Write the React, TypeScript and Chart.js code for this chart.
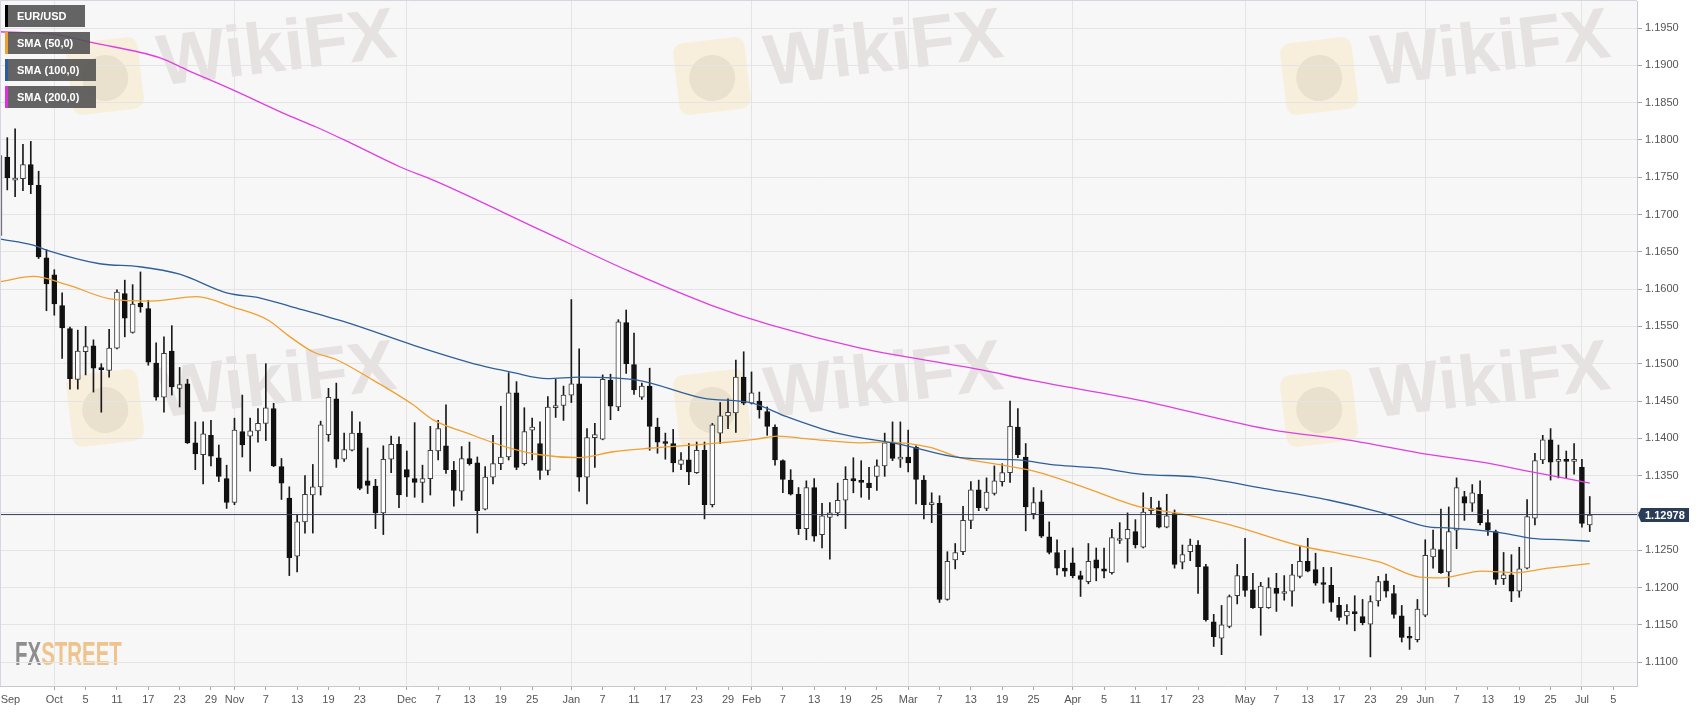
import { useEffect, useRef } from "react"
import { Chart, registerables } from "chart.js"

Chart.register(...registerables)

// x = trading-day index, 0 = Mon 1 Oct 2018; first candle Thu 20 Sep 2018, last Tue 2 Jul 2019
const FIRST_INDEX = -7

const opens = [
  1.1672, 1.1777, 1.1746, 1.1748, 1.1767, 1.1739, 1.1642, // Sep
  1.1619, 1.1578, 1.1547, 1.1479, 1.1516, 1.1524, 1.1494, 1.1491, 1.1521, 1.1594, 1.1542, 1.1581, 1.1574, 1.1501, 1.1455, 1.1517, 1.1467, 1.1473, 1.1394, 1.1378, 1.1404, 1.1374, 1.1346, // Oct
  1.1314, 1.1409, 1.1403, 1.1410, 1.1420, 1.1440, 1.1362, 1.1320, 1.1242, 1.1288, 1.1324, 1.1335, 1.1405, 1.1453, 1.1372, 1.1384, 1.1407, 1.1343, 1.1336, 1.1300, 1.1372, 1.1392, // Nov
  1.1358, 1.1346, 1.1341, 1.1346, 1.1383, 1.1390, 1.1357, 1.1329, 1.1373, 1.1367, 1.1305, 1.1348, 1.1366, 1.1375, 1.1461, 1.1366, 1.1411, 1.1393, 1.1357, 1.1441, 1.1444, // Dec
  1.1458, 1.1473, 1.1348, 1.1401, 1.1399, 1.1478, 1.1442, 1.1555, 1.1499, 1.1455, 1.1470, 1.1415, 1.1395, 1.1393, 1.1365, 1.1371, 1.1354, 1.1384, 1.1311, 1.1407, 1.1430, 1.1434, 1.1482, // Jan
  1.1447, 1.1450, 1.1436, 1.1415, 1.1370, 1.1344, 1.1325, 1.1279, 1.1334, 1.1271, 1.1294, 1.1300, 1.1317, 1.1346, 1.1343, 1.1340, 1.1349, 1.1363, 1.1394, 1.1372, // Feb
  1.1375, 1.1388, 1.1344, 1.1311, 1.1313, 1.1184, 1.1237, 1.1248, 1.1290, 1.1331, 1.1306, 1.1326, 1.1342, 1.1354, 1.1415, 1.1375, 1.1299, 1.1315, 1.1268, 1.1247, 1.1226, // Mar
  1.1233, 1.1216, 1.1208, 1.1237, 1.1225, 1.1220, 1.1263, 1.1265, 1.1275, 1.1254, 1.1303, 1.1307, 1.1281, 1.1299, 1.1234, 1.1248, 1.1257, 1.1228, 1.1154, 1.1132, 1.1148, 1.1189, // Apr
  1.1215, 1.1197, 1.1173, 1.1173, 1.1199, 1.1192, 1.1195, 1.1215, 1.1235, 1.1224, 1.1205, 1.1203, 1.1176, 1.1162, 1.1167, 1.1161, 1.1151, 1.1182, 1.1209, 1.1192, 1.1162, 1.1133, 1.1130, // May
  1.1163, 1.1241, 1.1251, 1.1221, 1.1277, 1.1322, 1.1313, 1.1325, 1.1287, 1.1275, 1.1212, 1.1217, 1.1195, 1.1226, 1.1293, 1.1371, 1.1398, 1.1369, 1.1370, 1.1369, // Jun
  1.1361, 1.1284, // Jul
]

const highs = [
  1.1792, 1.1803, 1.1815, 1.1794, 1.1798, 1.1758, 1.1653,
  1.1626, 1.1595, 1.1549, 1.1545, 1.1550, 1.1532, 1.1500, 1.1546, 1.1599, 1.1612, 1.1606, 1.1623, 1.1585, 1.1528, 1.1536, 1.1551, 1.1495, 1.1479, 1.1422, 1.1422, 1.1424, 1.1391, 1.1364,
  1.1427, 1.1458, 1.1427, 1.1440, 1.1500, 1.1447, 1.1373, 1.1335, 1.1297, 1.1350, 1.1365, 1.1423, 1.1467, 1.1474, 1.1407, 1.1436, 1.1422, 1.1387, 1.1345, 1.1390, 1.1403, 1.1402,
  1.1383, 1.1421, 1.1364, 1.1416, 1.1424, 1.1445, 1.1369, 1.1389, 1.1395, 1.1375, 1.1362, 1.1404, 1.1443, 1.1488, 1.1476, 1.1441, 1.1427, 1.1422, 1.1456, 1.1479, 1.1470,
  1.1586, 1.1520, 1.1413, 1.1420, 1.1485, 1.1486, 1.1559, 1.1572, 1.1541, 1.1474, 1.1494, 1.1427, 1.1407, 1.1412, 1.1381, 1.1393, 1.1395, 1.1395, 1.1420, 1.1448, 1.1453, 1.1505, 1.1516,
  1.1489, 1.1462, 1.1442, 1.1418, 1.1371, 1.1358, 1.1334, 1.1343, 1.1346, 1.1313, 1.1314, 1.1340, 1.1362, 1.1374, 1.1370, 1.1361, 1.1371, 1.1407, 1.1422, 1.1422,
  1.1411, 1.1390, 1.1350, 1.1327, 1.1323, 1.1248, 1.1259, 1.1309, 1.1342, 1.1344, 1.1347, 1.1363, 1.1366, 1.1450, 1.1440, 1.1393, 1.1334, 1.1330, 1.1288, 1.1264, 1.1250,
  1.1253, 1.1222, 1.1259, 1.1253, 1.1253, 1.1278, 1.1287, 1.1300, 1.1291, 1.1327, 1.1321, 1.1316, 1.1325, 1.1304, 1.1257, 1.1265, 1.1263, 1.1231, 1.1164, 1.1176, 1.1190, 1.1231,
  1.1266, 1.1219, 1.1207, 1.1213, 1.1219, 1.1216, 1.1231, 1.1255, 1.1266, 1.1246, 1.1227, 1.1227, 1.1187, 1.1177, 1.1189, 1.1184, 1.1189, 1.1215, 1.1218, 1.1203, 1.1176, 1.1147, 1.1184,
  1.1264, 1.1277, 1.1305, 1.1308, 1.1347, 1.1329, 1.1338, 1.1343, 1.1304, 1.1277, 1.1247, 1.1244, 1.1254, 1.1318, 1.1380, 1.1404, 1.1413, 1.1391, 1.1383, 1.1393,
  1.1372, 1.1322,
]

const lows = [
  1.1665, 1.1733, 1.1724, 1.1732, 1.1728, 1.1641, 1.1571,
  1.1565, 1.1507, 1.1466, 1.1466, 1.1485, 1.1462, 1.1435, 1.1482, 1.1520, 1.1536, 1.1541, 1.1569, 1.1498, 1.1451, 1.1435, 1.1458, 1.1442, 1.1393, 1.1358, 1.1339, 1.1363, 1.1342, 1.1306,
  1.1311, 1.1375, 1.1356, 1.1395, 1.1397, 1.1362, 1.1318, 1.1216, 1.1221, 1.1273, 1.1273, 1.1324, 1.1396, 1.1361, 1.1369, 1.1383, 1.1331, 1.1326, 1.1279, 1.1271, 1.1354, 1.1307,
  1.1322, 1.1321, 1.1314, 1.1324, 1.1371, 1.1353, 1.1309, 1.1317, 1.1364, 1.1273, 1.1304, 1.1339, 1.1358, 1.1371, 1.1358, 1.1364, 1.1371, 1.1345, 1.1351, 1.1428, 1.1424,
  1.1448, 1.1329, 1.1312, 1.1361, 1.1398, 1.1425, 1.1437, 1.1487, 1.1459, 1.1452, 1.1384, 1.1380, 1.1372, 1.1355, 1.1358, 1.1338, 1.1353, 1.1292, 1.1308, 1.1393, 1.1413, 1.1408, 1.1445,
  1.1446, 1.1427, 1.1404, 1.1364, 1.1327, 1.1324, 1.1271, 1.1264, 1.1262, 1.1253, 1.1238, 1.1296, 1.1279, 1.1327, 1.1321, 1.1318, 1.1330, 1.1349, 1.1370, 1.1361,
  1.1355, 1.1312, 1.1292, 1.1287, 1.1180, 1.1183, 1.1225, 1.1244, 1.1279, 1.1303, 1.1303, 1.1324, 1.1336, 1.1341, 1.1374, 1.1276, 1.1292, 1.1267, 1.1245, 1.1217, 1.1215,
  1.1213, 1.1188, 1.1205, 1.1209, 1.1213, 1.1218, 1.1259, 1.1234, 1.1253, 1.1253, 1.1298, 1.1280, 1.1280, 1.1226, 1.1225, 1.1236, 1.1192, 1.1155, 1.1121, 1.1110, 1.1146, 1.1178,
  1.1188, 1.1172, 1.1136, 1.1172, 1.1168, 1.1183, 1.1175, 1.1213, 1.1221, 1.1203, 1.1179, 1.1168, 1.1156, 1.1151, 1.1142, 1.1150, 1.1107, 1.1175, 1.1187, 1.1159, 1.1127, 1.1117, 1.1127,
  1.1161, 1.1226, 1.1219, 1.1201, 1.1252, 1.1290, 1.1302, 1.1284, 1.1270, 1.1204, 1.1204, 1.1181, 1.1187, 1.1225, 1.1284, 1.1366, 1.1344, 1.1347, 1.1346, 1.1352,
  1.1281, 1.1275,
]

const closes = [
  1.1779, 1.1749, 1.1748, 1.1767, 1.1740, 1.1643, 1.1607,
  1.1580, 1.1548, 1.1480, 1.1517, 1.1523, 1.1494, 1.1492, 1.1521, 1.1596, 1.1561, 1.1580, 1.1576, 1.1502, 1.1455, 1.1514, 1.1469, 1.1472, 1.1394, 1.1379, 1.1406, 1.1376, 1.1349, 1.1314,
  1.1411, 1.1391, 1.1410, 1.1420, 1.1441, 1.1363, 1.1340, 1.1240, 1.1288, 1.1325, 1.1335, 1.1418, 1.1455, 1.1372, 1.1385, 1.1407, 1.1333, 1.1337, 1.1300, 1.1372, 1.1392, 1.1324,
  1.1348, 1.1341, 1.1346, 1.1384, 1.1413, 1.1358, 1.1330, 1.1373, 1.1366, 1.1303, 1.1348, 1.1366, 1.1375, 1.1461, 1.1361, 1.1409, 1.1415, 1.1357, 1.1442, 1.1444, 1.1458,
  1.1473, 1.1348, 1.1401, 1.1405, 1.1479, 1.1443, 1.1556, 1.1500, 1.1465, 1.1470, 1.1416, 1.1395, 1.1393, 1.1367, 1.1371, 1.1355, 1.1384, 1.1311, 1.1418, 1.1430, 1.1435, 1.1482, 1.1447,
  1.1461, 1.1438, 1.1416, 1.1371, 1.1345, 1.1325, 1.1279, 1.1334, 1.1269, 1.1296, 1.1300, 1.1317, 1.1345, 1.1343, 1.1341, 1.1334, 1.1363, 1.1394, 1.1373, 1.1375,
  1.1367, 1.1345, 1.1311, 1.1314, 1.1184, 1.1235, 1.1247, 1.1290, 1.1331, 1.1307, 1.1328, 1.1343, 1.1354, 1.1416, 1.1378, 1.1308, 1.1314, 1.1269, 1.1247, 1.1226, 1.1222,
  1.1216, 1.1211, 1.1235, 1.1226, 1.1222, 1.1267, 1.1265, 1.1278, 1.1257, 1.1301, 1.1305, 1.1281, 1.1296, 1.1231, 1.1244, 1.1257, 1.1228, 1.1157, 1.1134, 1.1150, 1.1188, 1.1216,
  1.1196, 1.1173, 1.1202, 1.1200, 1.1192, 1.1194, 1.1217, 1.1235, 1.1222, 1.1206, 1.1204, 1.1180, 1.1160, 1.1168, 1.1165, 1.1153, 1.1181, 1.1208, 1.1195, 1.1164, 1.1133, 1.1132, 1.1171,
  1.1243, 1.1252, 1.1220, 1.1275, 1.1334, 1.1313, 1.1327, 1.1287, 1.1277, 1.1211, 1.1217, 1.1195, 1.1225, 1.1295, 1.1370, 1.1398, 1.1368, 1.1371, 1.1369, 1.1371,
  1.1286, 1.1297,
]

const sma50Index = [-6.9, -2.7, 1.6, 7.1, 12.2, 18.2, 22.8, 27.2, 30.1, 33.0, 36.1, 40.7, 45.8, 48.3, 52.7, 57.8, 62.0, 67.1, 71.3, 76.4, 85.0, 89.7, 92.3, 96.5, 102.9, 105.8, 111.8, 115.6, 121.1, 125.4, 131.3, 138.6, 143.7, 150.1, 158.6, 162.8, 169.2, 174.3, 177.1, 182.2, 186.5, 190.7, 196]
const sma50 = [1.1610, 1.1617, 1.1606, 1.1587, 1.1584, 1.1590, 1.1576, 1.1559, 1.1536, 1.1516, 1.1505, 1.1478, 1.1445, 1.1425, 1.1407, 1.1388, 1.1378, 1.1374, 1.1382, 1.1387, 1.1394, 1.1399, 1.1403, 1.1399, 1.1394, 1.1395, 1.1388, 1.1374, 1.1364, 1.1355, 1.1335, 1.1308, 1.1299, 1.1284, 1.1257, 1.1248, 1.1234, 1.1214, 1.1213, 1.1222, 1.1220, 1.1226, 1.1232]

const sma100Index = [-6.9, -2.7, -0.9, 5.8, 10.9, 16.0, 22.0, 26.3, 30.1, 37.4, 45.8, 54.3, 58.6, 62.9, 67.1, 74.4, 82.8, 89.2, 93.5, 99.9, 108.0, 115.6, 122.9, 128.0, 133.5, 138.6, 145.9, 154.3, 162.8, 169.2, 175.6, 177.9, 184.3, 188.6, 192.8, 196]
const sma100 = [1.1667, 1.1659, 1.1652, 1.1634, 1.1630, 1.1620, 1.1595, 1.1588, 1.1577, 1.1555, 1.1525, 1.1498, 1.1488, 1.1480, 1.1482, 1.1478, 1.1454, 1.1447, 1.1429, 1.1407, 1.1392, 1.1374, 1.1371, 1.1364, 1.1360, 1.1352, 1.1348, 1.1333, 1.1317, 1.1301, 1.1281, 1.1280, 1.1274, 1.1266, 1.1264, 1.1262]

const sma200Index = [-6.9, 0.3, 4.6, 13.5, 16.9, 22.8, 29.2, 33.5, 37.8, 44.1, 48.6, 62.5, 73.6, 83.7, 91.4, 102.9, 118.2, 124.6, 138.6, 155.6, 165.0, 175.6, 182.2, 188.6, 196]
const sma200 = [1.1945, 1.1941, 1.1931, 1.1910, 1.1894, 1.1867, 1.1836, 1.1817, 1.1796, 1.1764, 1.1745, 1.1677, 1.1623, 1.1579, 1.1552, 1.1521, 1.1492, 1.1478, 1.1451, 1.1411, 1.1398, 1.1378, 1.1368, 1.1355, 1.1340]

const lastPrice = 1.12978

const xTickIndex = [-5.6, 0, 4, 8, 12, 16, 20, 23, 27, 31, 35, 39, 45, 49, 53, 57, 61, 66, 70, 74, 78, 82, 86, 89, 93, 97, 101, 105, 109, 113, 117, 121, 125, 130, 134, 138, 142, 146, 152, 156, 160, 164, 168, 172, 175, 179, 183, 187, 191, 195, 199]
const xTickLabels = ["Sep", "Oct", "5", "11", "17", "23", "29", "Nov", "7", "13", "19", "23", "Dec", "7", "13", "19", "25", "Jan", "7", "11", "17", "23", "29", "Feb", "7", "13", "19", "25", "Mar", "7", "13", "19", "25", "Apr", "5", "11", "17", "23", "May", "7", "13", "17", "23", "29", "Jun", "7", "13", "19", "25", "Jul", "5"]
const yTicks = [1.11, 1.115, 1.12, 1.125, 1.13, 1.135, 1.14, 1.145, 1.15, 1.155, 1.16, 1.165, 1.17, 1.175, 1.18, 1.185, 1.19, 1.195]

const legendItems = [
  { text: "EUR/USD", color: "#000000", width: 80 },
  { text: "SMA (50,0)", color: "#f0a030", width: 85 },
  { text: "SMA (100,0)", color: "#2c5d9c", width: 91 },
  { text: "SMA (200,0)", color: "#e030e0", width: 91 },
]

const FONT = "'Liberation Sans', Arial, sans-serif"

const isMonth = (label: string) => /^[A-Z]/.test(label) && label !== "Sep"

function drawWatermark(ctx: CanvasRenderingContext2D, cx: number, cy: number) {
  ctx.save()
  ctx.translate(cx, cy)
  ctx.rotate(-0.12)
  ctx.fillStyle = "rgba(250, 212, 125, 0.22)"
  ctx.beginPath()
  ctx.roundRect(-36, -36, 72, 72, 10)
  ctx.fill()
  ctx.fillStyle = "rgba(140, 120, 120, 0.13)"
  ctx.beginPath()
  ctx.arc(0, 2, 23, 0, Math.PI * 2)
  ctx.fill()
  ctx.font = `bold 72px ${FONT}`
  ctx.fillStyle = "rgba(185, 165, 165, 0.26)"
  ctx.textBaseline = "alphabetic"
  ctx.fillText("WikiFX", 54, 16)
  ctx.restore()
}

const decorPlugin = {
  id: "decor",
  beforeDraw(chart: Chart) {
    const { ctx, chartArea: a } = chart
    ctx.save()
    ctx.fillStyle = "#ffffff"
    ctx.fillRect(0, 0, chart.width, chart.height)
    ctx.fillStyle = "#f7f7f7"
    ctx.fillRect(a.left, a.top, a.right - a.left, a.bottom - a.top)
    ctx.beginPath()
    ctx.rect(a.left, a.top, a.right - a.left, a.bottom - a.top)
    ctx.clip()
    for (const dy of [0, 332]) {
      for (const dx of [0, 607, 1214]) drawWatermark(ctx, 105 + dx, 76 + dy)
    }
    // FXSTREET logo
    ctx.translate(15, 665)
    ctx.scale(0.62, 1)
    ctx.font = `bold 33px ${FONT}`
    ctx.fillStyle = "#8e8e8e"
    ctx.fillText("FX", 0, 0)
    const w = ctx.measureText("FX").width
    ctx.fillStyle = "#efc38c"
    ctx.fillText("STREET", w, 0)
    ctx.restore()
  },
  afterDraw(chart: Chart) {
    const { ctx, chartArea: a } = chart
    const yScale = chart.scales.y
    ctx.save()
    // top / left frame
    ctx.strokeStyle = "#d6d6e2"
    ctx.lineWidth = 1
    ctx.beginPath()
    ctx.moveTo(a.left + 0.5, a.bottom)
    ctx.lineTo(a.left + 0.5, a.top - 0.5)
    ctx.lineTo(a.right, a.top - 0.5)
    ctx.stroke()

    // legend boxes
    ctx.font = `bold 11px ${FONT}`
    ctx.textBaseline = "middle"
    legendItems.forEach((item, i) => {
      const y = 5 + i * 27
      ctx.fillStyle = "rgba(80, 80, 80, 0.88)"
      ctx.fillRect(5, y, item.width, 22)
      ctx.fillStyle = item.color
      ctx.fillRect(5, y, 3, 22)
      ctx.fillStyle = "#ffffff"
      ctx.fillText(item.text, 17, y + 11.5)
    })

    // last price label
    const py = Math.round(yScale.getPixelForValue(lastPrice))
    const x0 = a.right + 1
    ctx.fillStyle = "#2a3d58"
    ctx.beginPath()
    ctx.moveTo(x0, py)
    ctx.lineTo(x0 + 3, py - 7)
    ctx.lineTo(x0 + 51, py - 7)
    ctx.lineTo(x0 + 51, py + 7)
    ctx.lineTo(x0 + 3, py + 7)
    ctx.closePath()
    ctx.fill()
    ctx.fillStyle = "#ffffff"
    ctx.font = `bold 11px ${FONT}`
    ctx.fillText(lastPrice.toFixed(5), x0 + 7, py + 0.5)
    ctx.restore()
  },
}

export default function App() {
  const canvasRef = useRef<HTMLCanvasElement>(null)
  const chartRef = useRef<Chart | null>(null)

  useEffect(() => {
    if (!canvasRef.current) return

    if (chartRef.current) chartRef.current.destroy()

    const wicks = lows.map((l, k) => ({ x: FIRST_INDEX + k, y: [l, highs[k]] }))
    const bodies = opens.map((o, k) => ({ x: FIRST_INDEX + k, y: [o, closes[k]] }))
    const up = (k: number) => closes[k] >= opens[k]
    const smaLine = (index: number[], values: number[], color: string, order: number) => ({
      type: "line" as const,
      data: values.map((v, k) => ({ x: index[k], y: v })),
      borderColor: color,
      borderWidth: 1.3,
      pointRadius: 0,
      cubicInterpolationMode: "monotone" as const,
      order,
    })

    chartRef.current = new Chart(canvasRef.current, {
      type: "bar",
      data: {
        datasets: [
          {
            data: wicks as any,
            backgroundColor: "#1a1a1a",
            borderWidth: 0,
            barThickness: 1,
            grouped: false,
            order: 6,
          },
          {
            data: bodies as any,
            backgroundColor: (c: any) => (up(c.dataIndex) ? "#ffffff" : "#111111"),
            borderColor: (c: any) => (up(c.dataIndex) ? "#3c3c3c" : "#111111"),
            borderWidth: 1,
            borderSkipped: false,
            barThickness: 5,
            minBarLength: 2,
            grouped: false,
            order: 5,
          },
          smaLine(sma50Index, sma50, "#f0a030", 3),
          smaLine(sma100Index, sma100, "#2f5f99", 2),
          smaLine(sma200Index, sma200, "#e03ee0", 1),
          {
            type: "line",
            data: [
              { x: -7, y: lastPrice },
              { x: 203, y: lastPrice },
            ],
            borderColor: "#2b3f5e",
            borderWidth: 1,
            pointRadius: 0,
            order: 0,
          },
        ] as any,
      },
      options: {
        animation: false,
        responsive: true,
        maintainAspectRatio: false,
        events: [],
        layout: { padding: { top: 1, left: 0, right: 0, bottom: 0 } },
        plugins: { legend: { display: false }, tooltip: { enabled: false } },
        scales: {
          x: {
            type: "linear",
            min: -6.93,
            max: 202.03,
            offset: false,
            afterBuildTicks: (s: any) => {
              s.ticks = xTickIndex.map((v) => ({ value: v }))
            },
            afterFit: (s: any) => {
              s.height = 26
              s.paddingLeft = 0
              s.paddingRight = 0
            },
            grid: {
              offset: false,
              color: (c: any) => (isMonth(xTickLabels[c.index] ?? "") ? "#e4e4e4" : "rgba(0,0,0,0)"),
              tickColor: (c: any) => (xTickLabels[c.index] === "Sep" ? "rgba(0,0,0,0)" : "#a8a8a8"),
              tickLength: 4,
            },
            border: { color: "#c8c8d0" },
            ticks: {
              autoSkip: false,
              maxRotation: 0,
              minRotation: 0,
              padding: 3,
              color: "#555555",
              font: { size: 11, family: FONT },
              callback: (_v: any, i: number) => xTickLabels[i],
            },
          },
          y: {
            type: "linear",
            position: "right",
            min: 1.1068,
            max: 1.19862,
            afterBuildTicks: (s: any) => {
              s.ticks = yTicks.map((v) => ({ value: v }))
            },
            afterFit: (s: any) => {
              s.width = 70
              s.paddingTop = 0
              s.paddingBottom = 0
            },
            grid: { color: "#e4e4e4", tickColor: "#a8a8a8", tickLength: 5 },
            border: { color: "#c8c8d4" },
            ticks: {
              padding: 3,
              color: "#555555",
              font: { size: 11, family: FONT },
              callback: (v: any) => Number(v).toFixed(4),
            },
          },
        },
      },
      plugins: [decorPlugin],
    })

    return () => {
      if (chartRef.current) {
        chartRef.current.destroy()
        chartRef.current = null
      }
    }
  }, [])

  return (
    <div style={{ position: "absolute", left: 0, top: 0, width: 1707, height: 712, background: "#fff" }}>
      <canvas ref={canvasRef}></canvas>
    </div>
  )
}
